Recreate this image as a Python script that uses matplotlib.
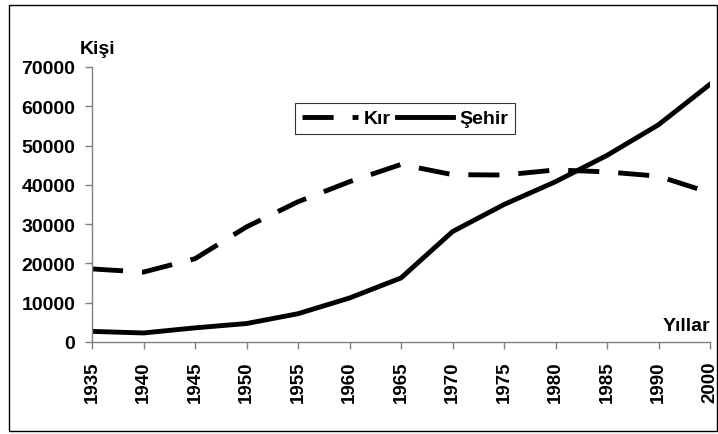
import matplotlib.pyplot as plt
from matplotlib.patches import Rectangle

years = ['1935', '1940', '1945', '1950', '1955', '1960', '1965',
         '1970', '1975', '1980', '1985', '1990', '2000']
kir = [18600, 17800, 21200, 29300, 35700, 40800, 45200,
       42600, 42500, 43800, 43300, 42200, 38000]
sehir = [2700, 2300, 3600, 4700, 7200, 11200, 16300,
         28100, 35000, 40800, 47500, 55300, 65600]

plt.rcParams['font.family'] = ['Liberation Sans', 'DejaVu Sans']
plt.rcParams['font.weight'] = 'bold'

fig = plt.figure(figsize=(7.18, 4.35), dpi=100)
ax = fig.add_axes([92 / 718, 1 - 343 / 435, (710 - 92) / 718, (343 - 68) / 435])

x = list(range(len(years)))
l1, = ax.plot(x, kir, color='black', lw=3.5, label='Kır')
l1.set_dashes([6.4, 3.9])
l2, = ax.plot(x, sehir, color='black', lw=3.5, label='Şehir')

ax.set_xlim(0, len(years) - 1)
ax.set_ylim(0, 70000)
ax.set_yticks(range(0, 70001, 10000))
ax.set_xticks(x)
ax.set_xticklabels(years, rotation=90, fontsize=13.5, fontweight='bold')
for t in ax.get_yticklabels():
    t.set_fontsize(14)
    t.set_fontweight('bold')

for s in ['top', 'right']:
    ax.spines[s].set_visible(False)
for s in ['left', 'bottom']:
    ax.spines[s].set_color('#808080')
    ax.spines[s].set_linewidth(1)
ax.tick_params(direction='out', length=5, color='#808080', width=1)
ax.tick_params(axis='y', pad=7)
ax.tick_params(axis='x', pad=8)

ax.text(-0.02, 1.035, 'Kişi', transform=ax.transAxes, fontsize=14,
        fontweight='bold', ha='left', va='bottom')
ax.text(1.0, 0.03, 'Yıllar', transform=ax.transAxes, fontsize=14,
        fontweight='bold', ha='right', va='bottom')

leg = ax.legend(loc='upper left', bbox_to_anchor=((295 - 92) / 618, (343 - 104) / 275),
                ncol=2, frameon=True, fancybox=False, edgecolor='black',
                fontsize=14, handlelength=2.9, columnspacing=0.3, handletextpad=0.3,
                borderpad=0.35, borderaxespad=0)
leg.get_frame().set_linewidth(0.8)
for t in leg.get_texts():
    t.set_fontweight('bold')

fig.patches.append(Rectangle((9 / 718, 3 / 435), 1 - 10 / 718, 1 - 8.7 / 435,
                             transform=fig.transFigure, fill=False,
                             edgecolor='black', lw=1))

fig.savefig('out.png', dpi=100)
